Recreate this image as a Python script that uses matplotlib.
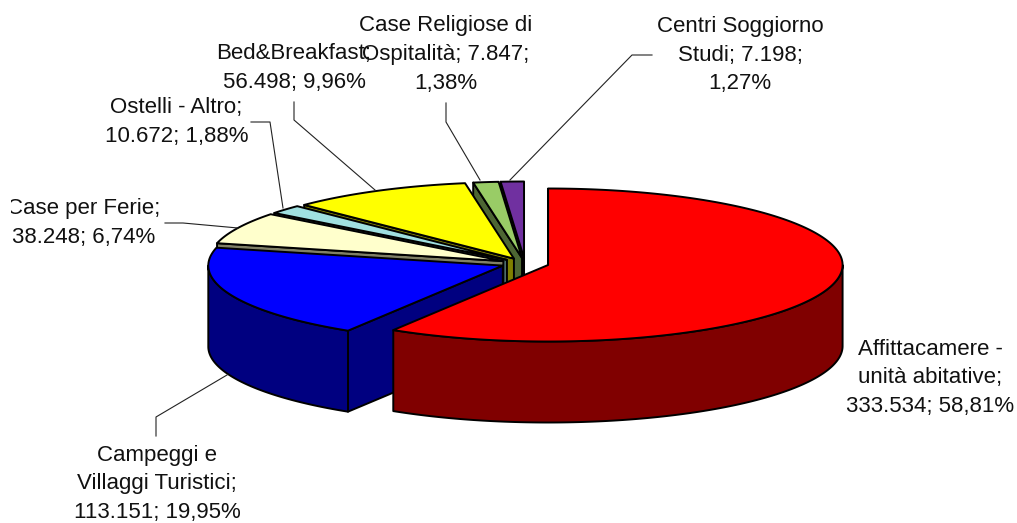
import numpy as np
import matplotlib
matplotlib.use('Agg')
import matplotlib.pyplot as plt
from matplotlib.patches import Rectangle

plt.rcParams['font.family'] = ['Liberation Sans', 'DejaVu Sans']

names = ['Affittacamere', 'Campeggi', 'Case per Ferie', 'Ostelli', 'Bed&Breakfast', 'Case Religiose', 'Centri Soggiorno']
values = [333534, 113151, 38248, 10672, 56498, 7847, 7198]
top_colors = ['#FF0000', '#0000FF', '#FFFFCC', '#A0E0E0', '#FFFF00', '#99CC66', '#7030A0']
side_colors = ['#800000', '#000080', '#808066', '#507070', '#808000', '#4D6633', '#381850']
labels = [
    'Affittacamere -\nunità abitative;\n333.534; 58,81%',
    'Campeggi e\nVillaggi Turistici;\n113.151; 19,95%',
    'Case per Ferie;\n38.248; 6,74%',
    'Ostelli - Altro;\n10.672; 1,88%',
    'Bed&Breakfast;\n56.498; 9,96%',
    'Case Religiose di\nOspitalità; 7.847;\n1,38%',
    'Centri Soggiorno\nStudi; 7.198;\n1,27%',
]
label_pos = [(930, 378), (157, 484), (84, 223), (176.5, 122), (294, 68), (446, 54.5), (740, 55)]
leaders = [
    None,
    [(227, 375), (156, 417), (156, 436)],
    [(165, 223), (183, 223), (238, 228)],
    [(251, 122), (270, 122), (283, 208)],
    [(294, 102), (294, 120), (375, 190)],
    [(446, 103), (446, 122), (480, 180)],
    [(652, 55), (632, 55), (510, 180)],
]

CX, CY = 525, 263.5
RX, RY = 294.5, 76.5
EX, EY = 24, 5.5
DEPTH = 81
LW = 1.4


def ellipse_pts(cx, cy, t0, t1):
    t = np.radians(np.linspace(t0, t1, 200))
    return cx + RX * np.sin(t), cy - RY * np.cos(t)


def main():
    fig = plt.figure(figsize=(10.17, 5.23), dpi=100)
    ax = fig.add_axes([0, 0, 1, 1])
    ax.set_xlim(0, 1017)
    ax.set_ylim(523, 0)
    ax.axis('off')

    vals = np.array(values, dtype=float)
    edges = np.concatenate([[0], np.cumsum(vals) / vals.sum() * 360])

    # back slices first, red last
    for i in range(len(vals) - 1, -1, -1):
        t0, t1 = edges[i], edges[i + 1]
        mid = np.radians((t0 + t1) / 2)
        cx = CX + EX * np.sin(mid)
        cy = CY - EY * np.cos(mid)

        # radial face on the start side
        px = cx + RX * np.sin(np.radians(t0))
        py = cy - RY * np.cos(np.radians(t0))
        ax.fill([cx, px, px, cx], [cy, py, py + DEPTH, cy + DEPTH],
                fc=side_colors[i], ec='black', lw=LW, joinstyle='round')

        # outer wall, only the front half shows
        w0, w1 = max(t0, 90), min(t1, 270)
        if w1 > w0:
            x, y = ellipse_pts(cx, cy, w0, w1)
            ax.fill(np.r_[x, x[::-1]], np.r_[y, y[::-1] + DEPTH],
                    fc=side_colors[i], ec='black', lw=LW, joinstyle='round')

        x, y = ellipse_pts(cx, cy, t0, t1)
        ax.fill(np.r_[cx, x], np.r_[cy, y], fc=top_colors[i], ec='black', lw=LW, joinstyle='round')

    for line in leaders:
        if line:
            xs, ys = zip(*line)
            ax.plot(xs, ys, color='#222222', lw=0.8)

    clip = Rectangle((11, 0), 1006, 523, transform=ax.transData)
    for text, (x, y) in zip(labels, label_pos):
        t = ax.text(x, y, text, ha='center', va='center', fontsize=16,
                    color='#111111', linespacing=1.47, multialignment='center')
        t.set_clip_path(clip)
        t.set_clip_on(True)

    fig.savefig('out.png', dpi=100)
    plt.close(fig)


if __name__ == '__main__':
    main()
